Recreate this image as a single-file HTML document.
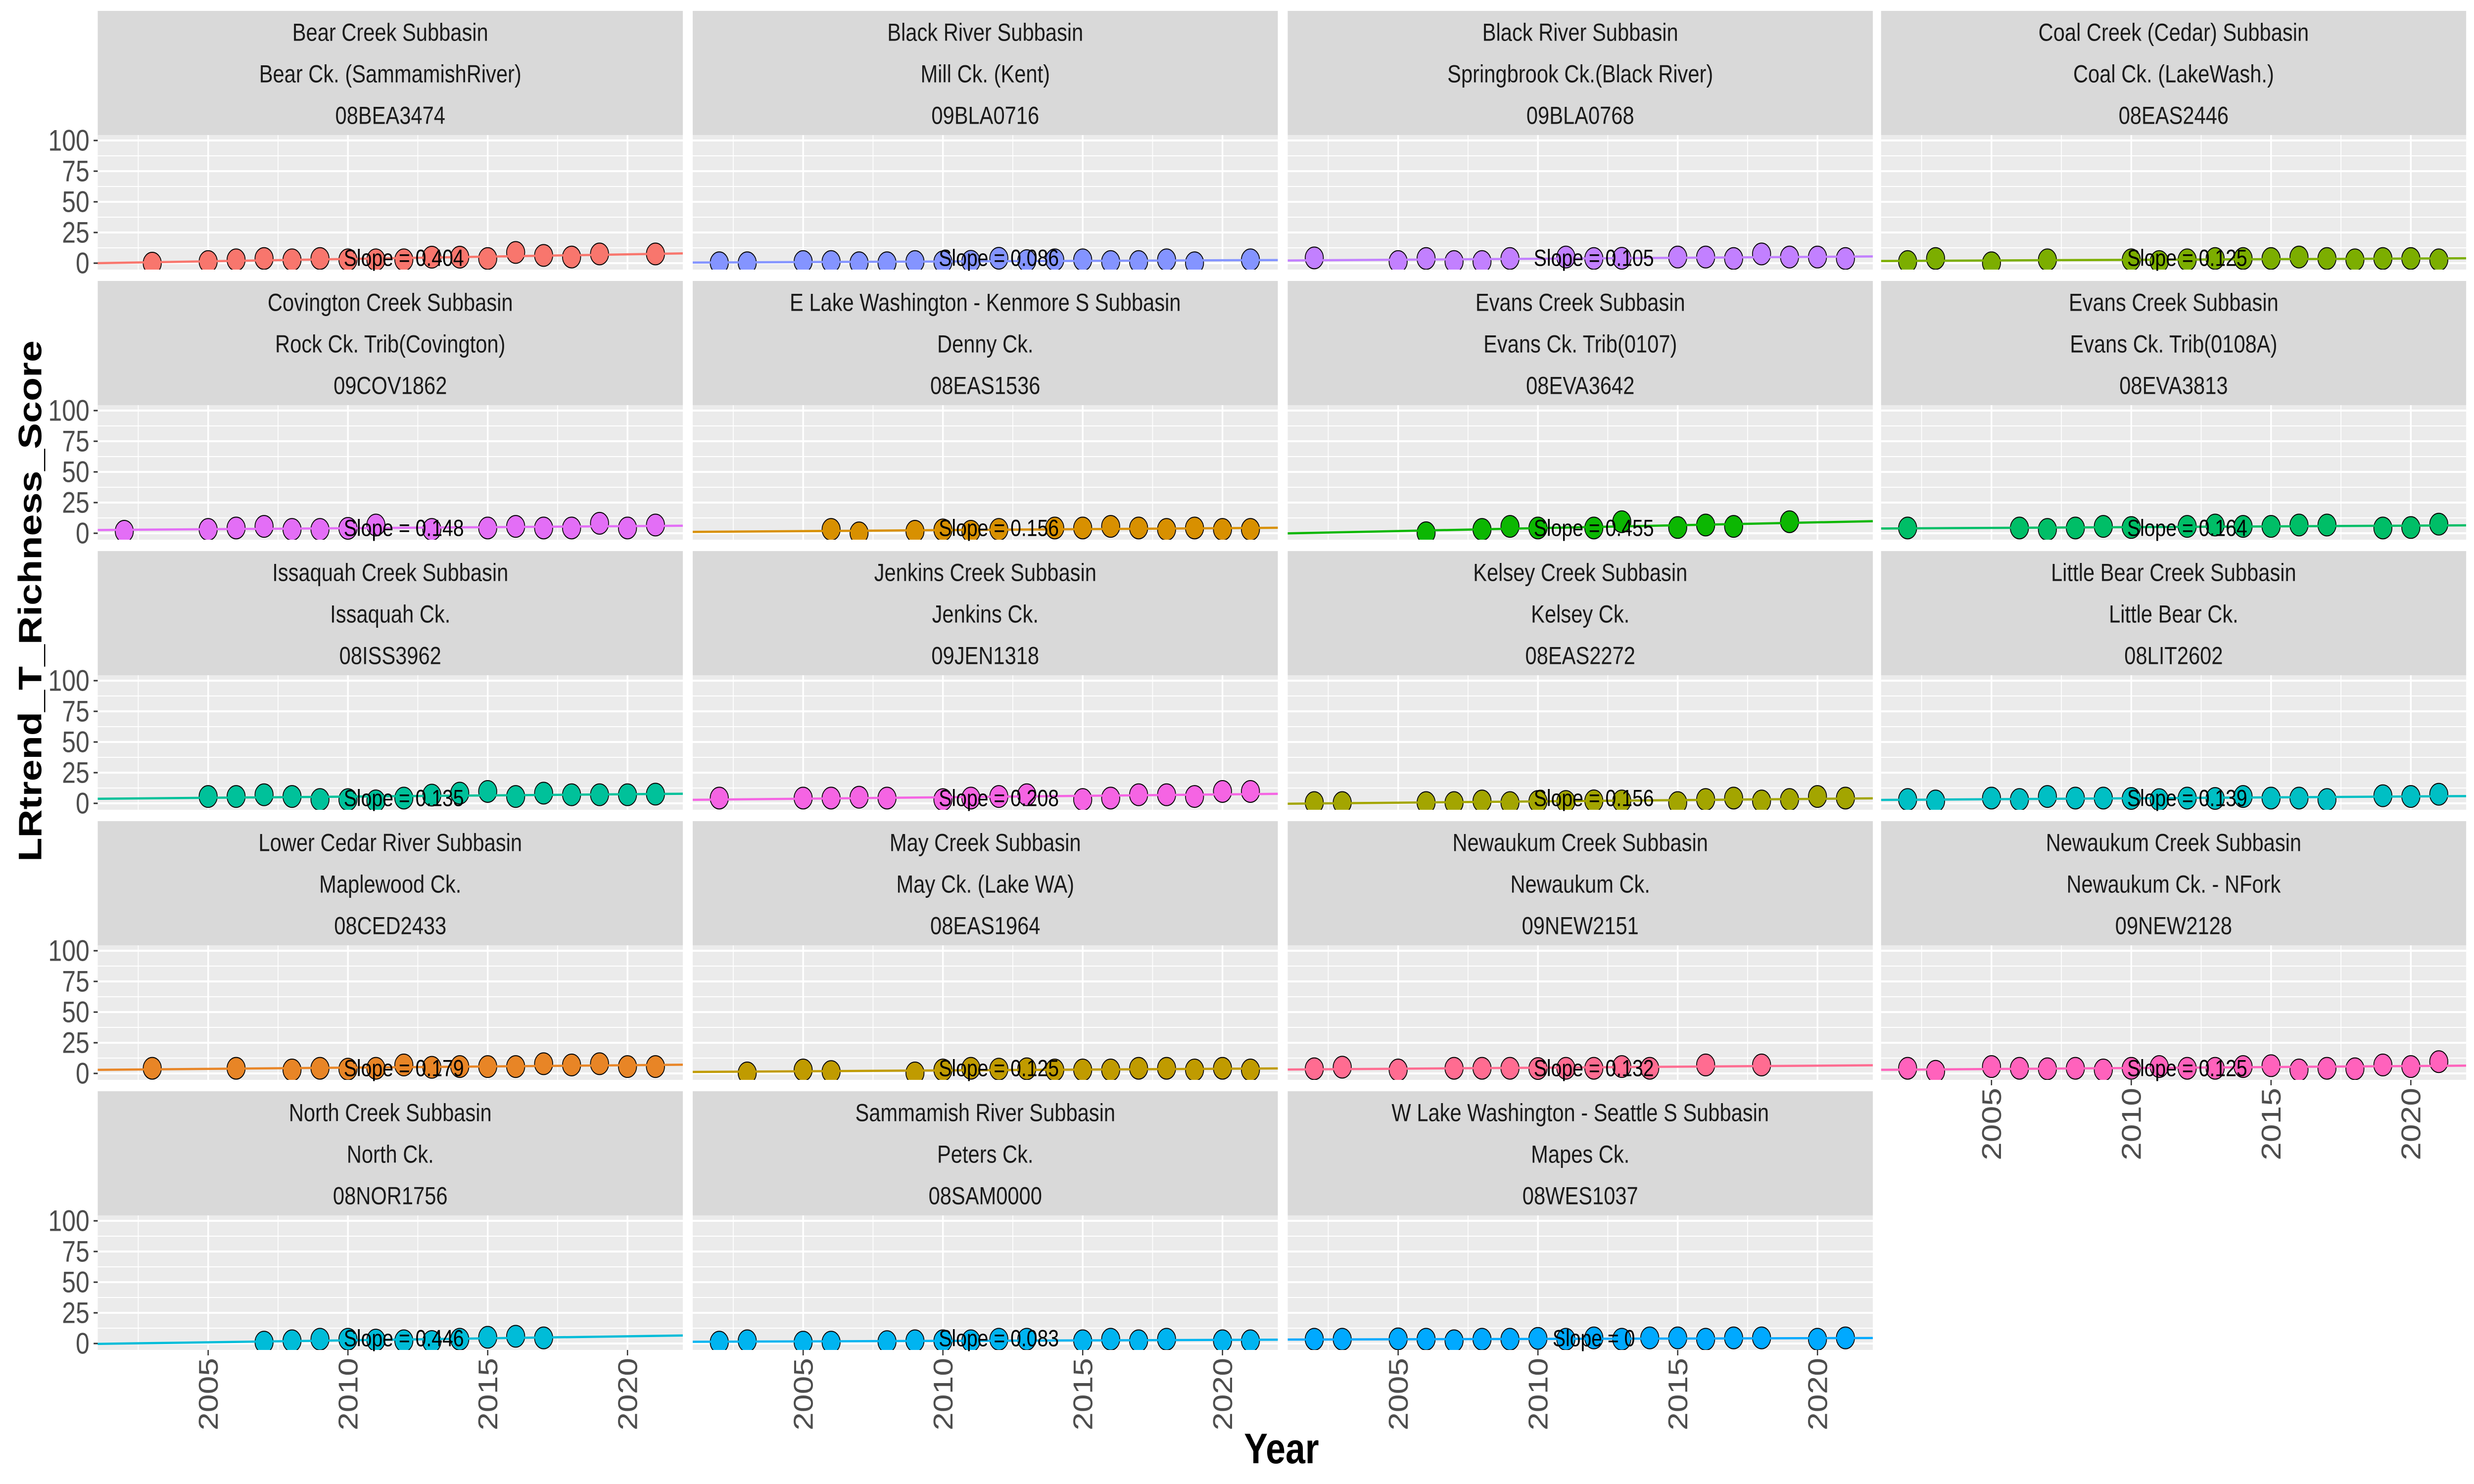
<!DOCTYPE html>
<html>
<head>
<meta charset="utf-8">
<style>
html,body{margin:0;padding:0;background:#fff;width:100%;height:100%;overflow:hidden;}
svg{display:block;overflow:hidden;width:100vw;height:100vh;}
text{font-family:"Liberation Sans",Arial,sans-serif;}
</style>
</head>
<body>
<svg id="chart" viewBox="0 0 6000 3000" preserveAspectRatio="none" xmlns="http://www.w3.org/2000/svg">
<rect width="6000" height="3000" fill="#ffffff"/>
<text x="0" y="0" transform="translate(100,1215) rotate(-90)" text-anchor="middle" font-size="79" font-weight="bold" fill="#000">LRtrend_T_Richness_Score</text>
<text x="3108" y="2958" text-anchor="middle" font-size="86" font-weight="bold" fill="#000">Year</text>
</svg>
<script>
const panelSubbasins = ["Bear Creek Subbasin","Black River Subbasin","Black River Subbasin","Coal Creek (Cedar) Subbasin","Covington Creek Subbasin","E Lake Washington - Kenmore S Subbasin","Evans Creek Subbasin","Evans Creek Subbasin","Issaquah Creek Subbasin","Jenkins Creek Subbasin","Kelsey Creek Subbasin","Little Bear Creek Subbasin","Lower Cedar River Subbasin","May Creek Subbasin","Newaukum Creek Subbasin","Newaukum Creek Subbasin","North Creek Subbasin","Sammamish River Subbasin","W Lake Washington - Seattle S Subbasin"];
const panelStreams = ["Bear Ck. (SammamishRiver)","Mill Ck. (Kent)","Springbrook Ck.(Black River)","Coal Ck. (LakeWash.)","Rock Ck. Trib(Covington)","Denny Ck.","Evans Ck. Trib(0107)","Evans Ck. Trib(0108A)","Issaquah Ck.","Jenkins Ck.","Kelsey Ck.","Little Bear Ck.","Maplewood Ck.","May Ck. (Lake WA)","Newaukum Ck.","Newaukum Ck. - NFork","North Ck.","Peters Ck.","Mapes Ck."];
const panelSites = ["08BEA3474","09BLA0716","09BLA0768","08EAS2446","09COV1862","08EAS1536","08EVA3642","08EVA3813","08ISS3962","09JEN1318","08EAS2272","08LIT2602","08CED2433","08EAS1964","09NEW2151","09NEW2128","08NOR1756","08SAM0000","08WES1037"];
const slopeLabels = ["0.404","0.086","0.105","0.125","0.148","0.156","0.455","0.164","0.135","0.208","0.156","0.139","0.179","0.125","0.132","0.125","0.446","0.083","0"];
const panelYears = [
 [2003,2005,2006,2007,2008,2009,2010,2011,2012,2013,2014,2015,2016,2017,2018,2019,2021],
 [2002,2003,2005,2006,2007,2008,2009,2010,2011,2012,2013,2014,2015,2016,2017,2018,2019,2021],
 [2002,2005,2006,2007,2008,2009,2011,2012,2013,2015,2016,2017,2018,2019,2020,2021],
 [2002,2003,2005,2007,2010,2011,2012,2013,2014,2015,2016,2017,2018,2019,2020,2021],
 [2002,2005,2006,2007,2008,2009,2010,2011,2013,2015,2016,2017,2018,2019,2020,2021],
 [2006,2007,2009,2010,2011,2012,2014,2015,2016,2017,2018,2019,2020,2021],
 [2006,2008,2009,2010,2012,2013,2015,2016,2017,2019],
 [2002,2006,2007,2008,2009,2010,2012,2013,2014,2015,2016,2017,2019,2020,2021],
 [2005,2006,2007,2008,2009,2010,2011,2012,2013,2014,2015,2016,2017,2018,2019,2020,2021],
 [2002,2005,2006,2007,2008,2010,2011,2012,2013,2015,2016,2017,2018,2019,2020,2021],
 [2002,2003,2006,2007,2008,2009,2010,2011,2012,2013,2015,2016,2017,2018,2019,2020,2021],
 [2002,2003,2005,2006,2007,2008,2009,2010,2011,2012,2013,2014,2015,2016,2017,2019,2020,2021],
 [2003,2006,2008,2009,2010,2011,2012,2013,2014,2015,2016,2017,2018,2019,2020,2021],
 [2003,2005,2006,2009,2010,2011,2012,2013,2014,2015,2016,2017,2018,2019,2020,2021],
 [2002,2003,2005,2007,2008,2009,2010,2011,2012,2013,2014,2016,2018],
 [2002,2003,2005,2006,2007,2008,2009,2010,2011,2012,2013,2014,2015,2016,2017,2018,2019,2020,2021],
 [2007,2008,2009,2010,2011,2012,2013,2014,2015,2016,2017],
 [2002,2003,2005,2006,2008,2009,2010,2011,2012,2013,2015,2016,2017,2018,2020,2021],
 [2002,2003,2005,2006,2007,2008,2009,2010,2011,2012,2013,2014,2015,2016,2017,2018,2020,2021]
];
const panelValues = [
 [0,1.3,2.7,3.8,2.7,3.8,2.7,2.7,2.7,4.9,4.9,3.8,8.7,6.3,5,7.5,7.5],
 [0.3,0.3,1.3,1.3,0.3,0.3,1.3,1,1.5,4,2,2.7,2.7,1.3,1.3,2.7,0.3,2.7],
 [4.3,1.3,3.8,1.3,1.3,3.8,5,3.8,4,5,5,3.8,7.5,5,5,3.8],
 [1.3,3.8,0.3,2.7,2.7,1.3,2.7,3.8,3.8,3.8,5,3.8,2.7,3.8,3.8,2.7],
 [1.6,3.1,4.3,5.6,3.1,3.1,4,6.7,3.1,4.3,5.6,4.3,4.3,8.1,4.3,6.7],
 [3.1,0.3,1.6,2.7,1.6,3.1,4.3,4.3,5.6,4.3,3.1,4.3,3.1,3.1],
 [0.4,3.1,5.6,4.3,4.3,9.4,4.7,6.7,5.6,9.4],
 [4.3,4.3,3.1,4.3,5.6,4.7,5.6,6.7,5.6,5.6,6.7,6.7,4.3,4.7,7.4],
 [5.6,5.6,7,5.6,3.1,3,2,4.3,6.7,8.3,9.7,5.6,8.3,7,7,7,7.5],
 [4.3,4.3,4.3,5,4.3,3,4.3,5.6,7,3.1,4.3,7,7,5.6,9.7,9.7],
 [0.6,0.6,0.6,0.6,1.9,0.6,1.5,1.5,2,1.9,0.6,3.1,4.3,1.9,3.1,5.6,4.3],
 [3.1,1.9,4.3,3.1,5.6,4.3,4.3,4,3,4.3,4,5.6,4.3,4.3,3.1,6.2,5.6,7.4],
 [4.2,4.2,2.8,4.2,3.5,4.2,6.9,5,5.6,5.6,5.6,7.9,6.9,7.9,5.6,5.6],
 [0.4,2.8,1.5,0.4,2.8,4.2,3.5,3.8,2.8,2.8,2.8,4.2,4.2,2.8,4.2,2.8],
 [3.8,5.1,2.8,4.2,4.2,4.2,4,4.2,4.2,5.6,4.2,6.9,6.9],
 [4.2,1.7,5.6,4.2,3.8,4.2,2.8,4.2,5.6,4.2,4.2,5.6,6.3,2.8,4.2,3.8,6.9,5.6,9.6],
 [1.1,2.2,3.5,3.5,2.8,2.2,1.6,3.5,5.1,5.9,4.6],
 [1.1,2.2,1.1,1.1,1.5,2.2,2.2,2.2,3.5,3.5,2.2,3.5,2.2,3.5,2.2,2.2],
 [3.5,3.5,3.8,3.5,2.2,3.5,3.5,4.2,3.5,4.6,3.5,4.6,4.6,3.5,4.6,4.6,3.5,4.6]
];
const yTicks = [0,25,50,75,100];
const yMinor = [12.5,37.5,62.5,87.5];
const xTicks = [2005,2010,2015,2020];
const xMinor = [2002.5,2007.5,2012.5,2017.5];

const panelColors = ["#F8766D","#8494FF","#C280FF","#7CAE00","#E36EF6","#D89000","#0CB702","#00BE67","#00C19A","#F564E3","#A3A500","#00BFC4","#E88526","#C09B00","#FF6C91","#FF62BC","#00BCD8","#00B4F0","#00A9FF"];
const colLeft = [237,1680,3123,4562];
const PW = 1419, STRIP_H = 251, PH = 272, ROW_PITCH = 546, TOP = 22;
const X0 = 2001.05, PX_PER_YEAR = 67.8;
const NS = "http://www.w3.org/2000/svg";
const svg = document.getElementById('chart');

function mk(tag, attrs, parent){
  const e = document.createElementNS(NS, tag);
  for (const k in attrs) e.setAttribute(k, attrs[k]);
  (parent||svg).appendChild(e);
  return e;
}

for (let i = 0; i < panelYears.length; i++) {
  const col = i % 4, row = Math.floor(i / 4);
  const left = colLeft[col];
  const stripTop = TOP + row * ROW_PITCH;
  const plotTop = stripTop + STRIP_H;
  const xs = yr => left + (yr - X0) * PX_PER_YEAR;
  const ys = v => plotTop + 11 + (100 - v) * 2.48;

  const g = mk('g', {});
  
  

  const strip = mk('rect', {x:left, y:stripTop, width:PW, height:STRIP_H, fill:'#D9D9D9'}, g);
  
  
  const lines = [panelSubbasins[i], panelStreams[i], panelSites[i]];
  for (let l = 0; l < 3; l++) {
    const t = mk('text', {x:left + PW/2, y:stripTop + 43 + l*84, 'text-anchor':'middle', 'dominant-baseline':'central', 'font-size':50, fill:'#1A1A1A'}, g);
    t.textContent = lines[l];
    
    
  }

  const bg = mk('rect', {x:left, y:plotTop, width:PW, height:PH, fill:'#EBEBEB'}, g);
  
  

  const clipId = 'clip' + i;
  const cp = mk('clipPath', {id: clipId}, g);
  mk('rect', {x:left, y:plotTop, width:PW, height:PH}, cp);

  yMinor.forEach(v => mk('line', {x1:left, x2:left+PW, y1:ys(v), y2:ys(v), stroke:'#fff', 'stroke-width':2}, g));
  xMinor.forEach(v => mk('line', {x1:xs(v), x2:xs(v), y1:plotTop, y2:plotTop+PH, stroke:'#fff', 'stroke-width':2}, g));
  yTicks.forEach(v => mk('line', {x1:left, x2:left+PW, y1:ys(v), y2:ys(v), stroke:'#fff', 'stroke-width':4}, g));
  xTicks.forEach(v => mk('line', {x1:xs(v), x2:xs(v), y1:plotTop, y2:plotTop+PH, stroke:'#fff', 'stroke-width':4}, g));

  const inner = mk('g', {'clip-path':'url(#' + clipId + ')'}, g);
  const yrs = panelYears[i], vals = panelValues[i];
  for (let k = 0; k < yrs.length; k++) {
    const c = mk('circle', {cx:xs(yrs[k]), cy:ys(vals[k]), r:22, fill:panelColors[i], stroke:'#000', 'stroke-width':2}, inner);
    
    
  }
  const n = yrs.length;
  let mx = 0, my = 0;
  for (let k = 0; k < n; k++) { mx += yrs[k]; my += vals[k]; }
  mx /= n; my /= n;
  let sxy = 0, sxx = 0;
  for (let k = 0; k < n; k++) { sxy += (yrs[k]-mx)*(vals[k]-my); sxx += (yrs[k]-mx)*(yrs[k]-mx); }
  const b = sxx ? sxy/sxx : 0;
  const xA = X0, xB = X0 + PW / PX_PER_YEAR;
  const tl = mk('line', {x1:xs(xA), y1:ys(my + b*(xA-mx)), x2:xs(xB), y2:ys(my + b*(xB-mx)), stroke:panelColors[i], 'stroke-width':4.5}, inner);
  
  

  const st = mk('text', {x:xs(2012), y:ys(4), 'text-anchor':'middle', 'dominant-baseline':'central', 'font-size':47, fill:'#000'}, g);
  st.textContent = 'Slope = ' + slopeLabels[i];
  
  

  if (col === 0) {
    yTicks.forEach(v => {
      mk('line', {x1:left-10, x2:left, y1:ys(v), y2:ys(v), stroke:'#333', 'stroke-width':3}, g);
      const t = mk('text', {x:left-20, y:ys(v), 'text-anchor':'end', 'dominant-baseline':'central', 'font-size':60, fill:'#4D4D4D'}, g);
      t.textContent = String(v);
      
      
    });
  }
  const isBottom = (row === 4) || (row === 3 && col === 3);
  if (isBottom) {
    const bot = plotTop + PH;
    xTicks.forEach(v => {
      mk('line', {x1:xs(v), x2:xs(v), y1:bot, y2:bot+11, stroke:'#333', 'stroke-width':3}, g);
      const tx = xs(v) + 23, ty = bot + 16;
      const t = mk('text', {x:0, y:0, transform:'translate(' + tx + ',' + ty + ') rotate(-90)', 'text-anchor':'end', 'font-size':66, fill:'#4D4D4D'}, g);
      t.textContent = String(v);
      
      
    });
  }
}
</script>
</body>
</html>
